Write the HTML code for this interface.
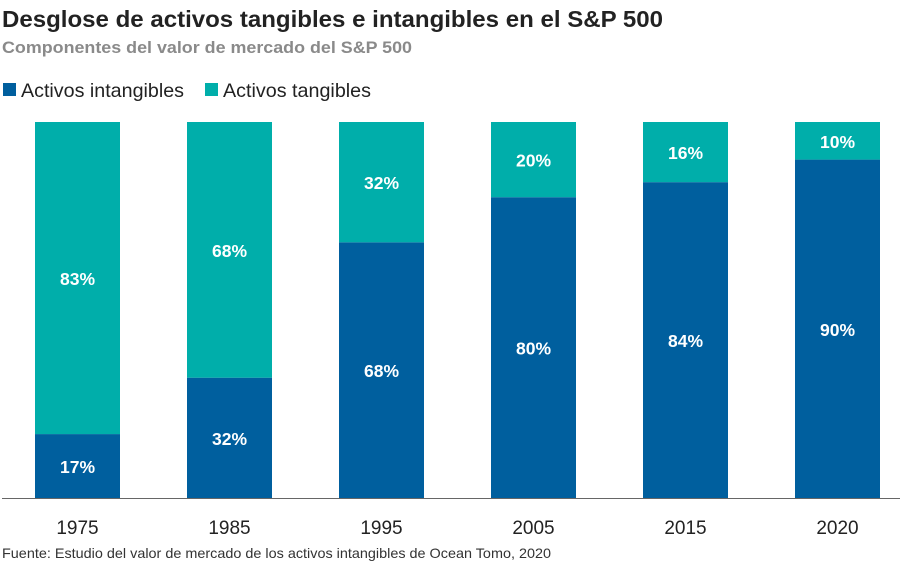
<!DOCTYPE html>
<html><head><meta charset="utf-8"><style>
body{margin:0;width:913px;height:563px;background:#fff;font-family:"Liberation Sans",sans-serif;overflow:hidden}
</style></head><body>
<svg width="913" height="563" xmlns="http://www.w3.org/2000/svg">
<text x="2" y="27" font-size="23" font-weight="bold" fill="#222" textLength="661" lengthAdjust="spacingAndGlyphs">Desglose de activos tangibles e intangibles en el S&amp;P 500</text>
<text x="2" y="53" font-size="17" font-weight="bold" fill="#8a8a8a" textLength="410" lengthAdjust="spacingAndGlyphs">Componentes del valor de mercado del S&amp;P 500</text>
<g>
<rect x="3" y="83" width="13" height="13" fill="#005f9e"/>
<text x="21" y="97" font-size="19.5" fill="#222" textLength="163" lengthAdjust="spacingAndGlyphs">Activos intangibles</text>
<rect x="205" y="83" width="13" height="13" fill="#00aeaa"/>
<text x="223" y="97" font-size="19.5" fill="#222" textLength="148" lengthAdjust="spacingAndGlyphs">Activos tangibles</text>
</g>
<g id="bars"></g>
<line x1="2" y1="498.5" x2="900" y2="498.5" stroke="#666" stroke-width="1"/>
<text x="2" y="558" font-size="14" fill="#333" textLength="549" lengthAdjust="spacingAndGlyphs">Fuente: Estudio del valor de mercado de los activos intangibles de Ocean Tomo, 2020</text>
</svg>
<script>
const categories=["1975","1985","1995","2005","2015","2020"];
const intangibles=[17,32,68,80,84,90];
const tangibles=[83,68,32,20,16,10];
const ns="http://www.w3.org/2000/svg";
const g=document.getElementById("bars");
const top0=122,base=498,bw=85;
function xPos(i){return 35+i*152;}
function yScale(v){return base-(v/100)*(base-top0);}
function mk(t,a){const e=document.createElementNS(ns,t);for(const k in a)e.setAttribute(k,a[k]);g.appendChild(e);return e;}
categories.forEach((c,i)=>{
  const x=xPos(i);
  const yi=yScale(intangibles[i]);
  const yt=yScale(intangibles[i]+tangibles[i]);
  const r1=mk("rect",{x:x,y:yi,width:bw,height:base-yi,fill:"#005f9e"});
  
  
  const r2=mk("rect",{x:x,y:yt,width:bw,height:yi-yt,fill:"#00aeaa"});
  
  
  const t1=mk("text",{x:x+bw/2,y:(yi+base)/2+7,"text-anchor":"middle","font-size":"17.5","font-weight":"bold",fill:"#fff"});
  t1.textContent=intangibles[i]+"%";
  
  
  const t2=mk("text",{x:x+bw/2,y:(yi+yt)/2+7,"text-anchor":"middle","font-size":"17.5","font-weight":"bold",fill:"#fff"});
  t2.textContent=tangibles[i]+"%";
  
  
  const t3=mk("text",{x:x+bw/2,y:534,"text-anchor":"middle","font-size":"19",fill:"#222"});
  t3.textContent=c;
  
  
});
</script>
</body></html>
